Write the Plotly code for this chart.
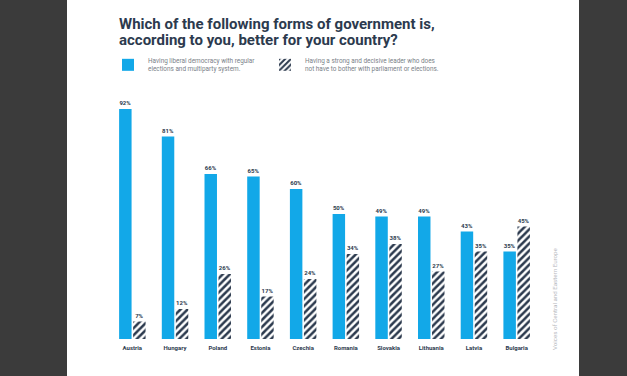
import plotly.graph_objects as go

countries = ["Austria", "Hungary", "Poland", "Estonia", "Czechia",
             "Romania", "Slovakia", "Lithuania", "Latvia", "Bulgaria"]
democracy = [92, 81, 66, 65, 60, 50, 49, 49, 43, 35]
strong_leader = [7, 12, 26, 17, 24, 34, 38, 27, 35, 45]

name_dem = "Having liberal democracy with regular<br>elections and multiparty system."
name_leader = "Having a strong and decisive leader who does<br>not have to bother with parliament or elections."
title_line1 = "Which of the following forms of government is,"
title_line2 = "according to you, better for your country?"
source_text = "Voices of Central and Eastern Europe"

W, H = 627, 376
L, R, T, B = 111, 89, 89, 37
pw, ph = W - L - R, H - T - B

def px_x(x):
    return (x - L) / pw

def px_y(y):
    return (H - B - y) / ph

NAVY = "#2c3a4e"
BLUE = "#12a8e8"
FONT = "Roboto"
TITLE_FONT = dict(size=15, color=NAVY, family=FONT, weight="bold")
LEG_FONT = dict(size=6.4, color="#7a7f88", family=FONT)

fig = go.Figure()
fig.add_bar(
    x=countries, y=democracy, name=name_dem, legend="legend",
    marker=dict(color=BLUE, line=dict(width=0)),
    text=[f"{v}%" for v in democracy], textposition="outside",
    textfont=dict(size=6, color=NAVY, family=FONT, weight="bold"),
    cliponaxis=False,
)
fig.add_bar(
    x=countries, y=strong_leader, name=name_leader, legend="legend2",
    marker=dict(color="white", line=dict(width=0),
                pattern=dict(shape="/", size=5, solidity=0.5,
                             fgcolor=NAVY, bgcolor="white", fillmode="replace")),
    text=[f"{v}%" for v in strong_leader], textposition="outside",
    textfont=dict(size=6, color=NAVY, family=FONT, weight="bold"),
    cliponaxis=False,
)

fig.update_layout(
    width=W, height=H,
    margin=dict(l=L, r=R, t=T, b=B, pad=0),
    paper_bgcolor="#3b3b3b", plot_bgcolor="white",
    barmode="group", bargap=0.344, bargroupgap=0.11,
    showlegend=True,
    title=dict(text=title_line1, x=119 / W, xanchor="left", xref="container",
               y=1 - 23.5 / H, yanchor="middle", yref="container",
               font=TITLE_FONT),
    legend=dict(orientation="h", x=px_x(108), xanchor="left", y=px_y(50), yanchor="top",
                font=LEG_FONT, bgcolor="rgba(0,0,0,0)"),
    legend2=dict(orientation="h", x=px_x(265), xanchor="left", y=px_y(50), yanchor="top",
                 font=LEG_FONT, bgcolor="rgba(0,0,0,0)"),
    xaxis=dict(showgrid=False, showline=False, ticks="", zeroline=False,
               ticklabelstandoff=4,
               tickfont=dict(size=6, color=NAVY, family=FONT, weight="bold")),
    yaxis=dict(visible=False, range=[0, 100]),
    shapes=[dict(type="rect", xref="paper", yref="paper",
                 x0=px_x(67), x1=px_x(579), y0=px_y(H), y1=px_y(0),
                 fillcolor="white", line=dict(width=0), layer="below")],
    annotations=[
        dict(text=title_line2, xref="paper", yref="paper",
             x=px_x(117), y=px_y(39.5), xanchor="left", yanchor="middle",
             showarrow=False, font=TITLE_FONT),
        dict(text=source_text, xref="paper", yref="paper",
             x=px_x(555), y=px_y(299), xanchor="center", yanchor="middle",
             textangle=-90, showarrow=False,
             font=dict(size=6.2, color="#b5b8bd", family=FONT)),
    ],
)

fig.write_html("out.html")
